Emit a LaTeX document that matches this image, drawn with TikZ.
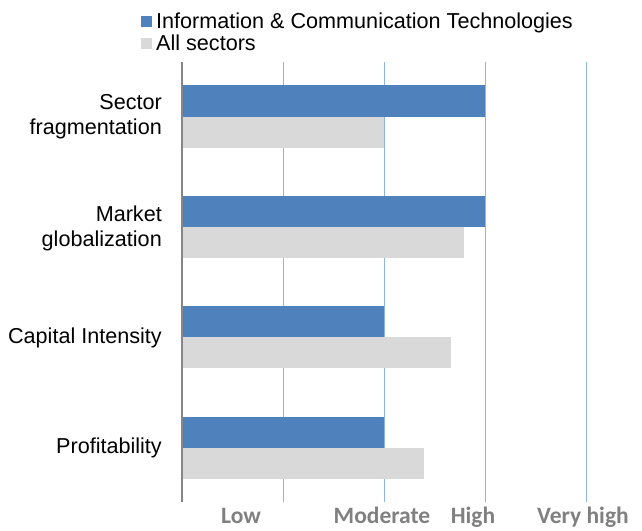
\documentclass[tikz,border=0pt]{standalone}
\usepackage{fontspec}
\setmainfont{Liberation Sans}
\newfontfamily\calfont{Carlito}
\usepackage{tikz}
\usetikzlibrary{positioning}
\definecolor{ictblue}{RGB}{79,129,189}
\definecolor{allgray}{RGB}{217,217,217}
\definecolor{gridblue}{RGB}{142,180,227}
\definecolor{axgray}{RGB}{134,134,134}
\definecolor{lvlgray}{RGB}{128,128,128}

\begin{document}
\begin{tikzpicture}[x=1pt,y=-1pt,
  every node/.style={font=\fontsize{21.6}{25}\selectfont,inner sep=0pt},
  cat/.style={anchor=east,align=right},
  lvl/.style={anchor=base,text=lvlgray,font=\calfont\bfseries\fontsize{23.5}{26}\selectfont},
  legsq/.style={minimum size=11pt}]
  \useasboundingbox (0,0) rectangle (642,530);

  % legend
  \node[legsq,fill=ictblue] (k1) at (146.5,21.5) {};
  \node[legsq,fill=allgray] (k2) at (146.5,43) {};
  \node[anchor=base west] (t1) at (156,28) {Information \& Communication Technologies};
  \node[anchor=base west] (t2) at (156,50) {All sectors};

  % grid
  \draw[gridblue] (283,62) -- (283,502);
  \draw[gridblue] (384,62) -- (384,502);
  \draw[gridblue] (485,62) -- (485,502);
  \draw[gridblue] (586,62) -- (586,502);

  % bars
  \fill[ictblue] (182,85) rectangle (485,117);
  \fill[allgray] (182,117) rectangle (384,148);
  \fill[ictblue] (182,196) rectangle (485,227);
  \fill[allgray] (182,227) rectangle (464,258);
  \fill[ictblue] (182,306) rectangle (384,337);
  \fill[allgray] (182,337) rectangle (451,368);
  \fill[ictblue] (182,417) rectangle (384,448);
  \fill[allgray] (182,448) rectangle (424,479);

  \draw[axgray,line width=1.3pt] (182,62) -- (182,502);

  % categories
  \node[cat] (c1) at (162,117) {Sector\\fragmentation};
  \node[cat] (c2) at (162,228) {Market\\globalization};
  \node[cat] (c3) at (162,338) {Capital Intensity};
  \node[cat] (c4) at (162,448) {Profitability};

  % levels
  \node[lvl] (l1) at (241,523.5) {Low};
  \node[lvl] (l2) at (382,523.5) {Moderate};
  \node[lvl] (l3) at (473,523.5) {High};
  \node[lvl] (l4) at (583,523.5) {Very high};
\end{tikzpicture}
\end{document}
